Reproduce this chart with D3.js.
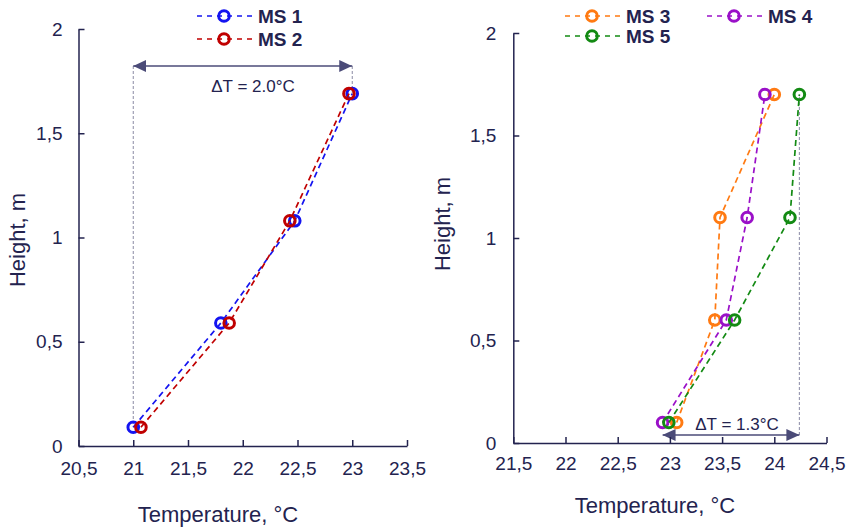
<!DOCTYPE html>
<html>
<head>
<meta charset="utf-8">
<script src="https://cdn.jsdelivr.net/npm/d3@7"></script>
<style>
  body { margin: 0; background: #fff; }
  svg text { font-family: "Liberation Sans", Arial, sans-serif; fill: #23234f; }
  .axis path, .axis line { stroke: #23234f; stroke-width: 1.5; }
  .axis text { font-size: 19px; }
  .axis-title { font-size: 22px; }
  .legend-label { font-size: 19px; font-weight: bold; }
  .dt-label { font-size: 17px; }
</style>
</head>
<body>
<div id="chart"></div>
<script>
// heights (m) of the measuring points
var heights_left = [0.09, 0.59, 1.08, 1.69],
  heights_right = [0.1, 0.6, 1.1, 1.7];

// temperatures (deg C) per station
var ms1 = [21.0, 21.80, 22.475, 23.0],
  ms2 = [21.07, 21.876, 22.43, 22.97],
  ms3 = [23.065, 23.43, 23.48, 24.0],
  ms4 = [22.93, 23.54, 23.74, 23.91],
  ms5 = [22.99, 23.62, 24.15, 24.24];

var x_ticks_left = [20.5, 21, 21.5, 22, 22.5, 23, 23.5],
  x_ticks_right = [21.5, 22, 22.5, 23, 23.5, 24, 24.5],
  y_ticks = [0, 0.5, 1, 1.5, 2];

var width = 849, height = 527;

var svg = d3.select("#chart").append("svg")
    .attr("width", width)
    .attr("height", height);

var defs = svg.append("defs");
defs.append("marker")
    .attr("id", "arrow")
    .attr("viewBox", "0 0 13 12")
    .attr("refX", 13).attr("refY", 6)
    .attr("markerWidth", 13).attr("markerHeight", 12)
    .attr("markerUnits", "userSpaceOnUse")
    .attr("orient", "auto-start-reverse")
  .append("path")
    .attr("d", "M0,0L13,6L0,12Z")
    .attr("fill", "#4b4b78");

var fmt = function(d){ return String(d).replace(".", ","); };

var panels = [
  {
    xdom: [20.5, 23.5], xr: [78.5, 407], yr: [446, 29],
    xticks: x_ticks_left, xpad: 16, ypad: 16,
    xtitle: {x: 218, y: 522}, ytitle: {x: 25, y: 240},
    heights: heights_left,
    series: [
      {name: "MS 1", values: ms1, color: "#1414f0"},
      {name: "MS 2", values: ms2, color: "#c00000"}
    ],
    legend: [{x: 197, y: 16}, {x: 197, y: 39}],
    dt: {from: ms1[0], to: ms1[3], y: 66, label: "\u0394T = 2.0\u00b0C", lx: 253, ly: 92,
      drops: [{t: ms1[0], h: heights_left[0]}, {t: ms1[3], h: heights_left[3]}]}
  },
  {
    xdom: [21.5, 24.5], xr: [513.3, 826.5], yr: [443, 33],
    xticks: x_ticks_right, xpad: 14, ypad: 17,
    xtitle: {x: 655, y: 513}, ytitle: {x: 450, y: 224},
    heights: heights_right,
    series: [
      {name: "MS 3", values: ms3, color: "#ff7a12"},
      {name: "MS 4", values: ms4, color: "#9a10c8"},
      {name: "MS 5", values: ms5, color: "#138a13"}
    ],
    legend: [{x: 565, y: 16}, {x: 707, y: 16}, {x: 565, y: 36}],
    dt: {from: ms4[0], to: ms5[3], y: 435, label: "\u0394T = 1.3\u00b0C", lx: 737, ly: 430,
      drops: [{t: ms5[3], h: heights_right[3]}]}
  }
];

panels.forEach(drawPanel);

function drawPanel(p){
  var x = d3.scaleLinear().domain(p.xdom).range(p.xr);
  var y = d3.scaleLinear().domain([0, 2]).range(p.yr);

  var g = svg.append("g");

  // delta T annotation
  p.dt.drops.forEach(function(d){
    g.append("line")
      .attr("x1", x(d.t)).attr("x2", x(d.t))
      .attr("y1", p.dt.y).attr("y2", y(d.h))
      .attr("stroke", "#8a8aa4")
      .attr("stroke-width", 1)
      .attr("stroke-dasharray", "3,2");
  });

  g.append("line")
    .attr("x1", x(p.dt.from)).attr("x2", x(p.dt.to))
    .attr("y1", p.dt.y).attr("y2", p.dt.y)
    .attr("stroke", "#4b4b78")
    .attr("stroke-width", 1.5)
    .attr("marker-start", "url(#arrow)")
    .attr("marker-end", "url(#arrow)");

  g.append("text")
    .attr("class", "dt-label")
    .attr("x", p.dt.lx).attr("y", p.dt.ly)
    .attr("text-anchor", "middle")
    .text(p.dt.label);

  // axes
  g.append("g")
    .attr("class", "axis")
    .attr("transform", "translate(0," + p.yr[0] + ")")
    .call(d3.axisBottom(x).tickValues(p.xticks).tickFormat(fmt)
      .tickSizeInner(-6).tickSizeOuter(0).tickPadding(p.xpad))
    .call(function(a){ a.selectAll("text").attr("dy", "0.71em"); });

  g.append("g")
    .attr("class", "axis")
    .attr("transform", "translate(" + p.xr[0] + ",0)")
    .call(d3.axisLeft(y).tickValues(y_ticks).tickFormat(fmt)
      .tickSizeInner(-6).tickSizeOuter(0).tickPadding(p.ypad));

  g.append("text")
    .attr("class", "axis-title")
    .attr("x", p.xtitle.x).attr("y", p.xtitle.y)
    .attr("text-anchor", "middle")
    .text("Temperature, \u00b0C");

  g.append("text")
    .attr("class", "axis-title")
    .attr("transform", "translate(" + p.ytitle.x + "," + p.ytitle.y + ") rotate(-90)")
    .attr("text-anchor", "middle")
    .text("Height, m");

  // series
  var line = d3.line()
    .x(function(d){ return x(d[0]); })
    .y(function(d){ return y(d[1]); });

  p.series.forEach(function(s, i){
    var pts = s.values.map(function(v, j){ return [v, p.heights[j]]; });

    g.append("path")
      .datum(pts)
      .attr("d", line)
      .attr("fill", "none")
      .attr("stroke", s.color)
      .attr("stroke-width", 1.7)
      .attr("stroke-dasharray", "6,4");

    g.selectAll(".pt-" + i)
        .data(pts)
      .enter().append("circle")
        .attr("class", "pt-" + i)
        .attr("cx", function(d){ return x(d[0]); })
        .attr("cy", function(d){ return y(d[1]); })
        .attr("r", 5.3)
        .attr("fill", "none")
        .attr("stroke", s.color)
        .attr("stroke-width", 3);

    // legend
    var l = p.legend[i];
    var lg = svg.append("g").attr("transform", "translate(" + l.x + "," + l.y + ")");
    lg.append("line")
      .attr("x1", 0).attr("x2", 55)
      .attr("y1", 0).attr("y2", 0)
      .attr("stroke", s.color)
      .attr("stroke-width", 1.7)
      .attr("stroke-dasharray", "5,5");
    lg.append("circle")
      .attr("cx", 27).attr("cy", 0)
      .attr("r", 5.3)
      .attr("fill", "none")
      .attr("stroke", s.color)
      .attr("stroke-width", 3);
    lg.append("text")
      .attr("class", "legend-label")
      .attr("x", 61).attr("y", 7)
      .text(s.name);
  });
}
</script>
</body>
</html>
